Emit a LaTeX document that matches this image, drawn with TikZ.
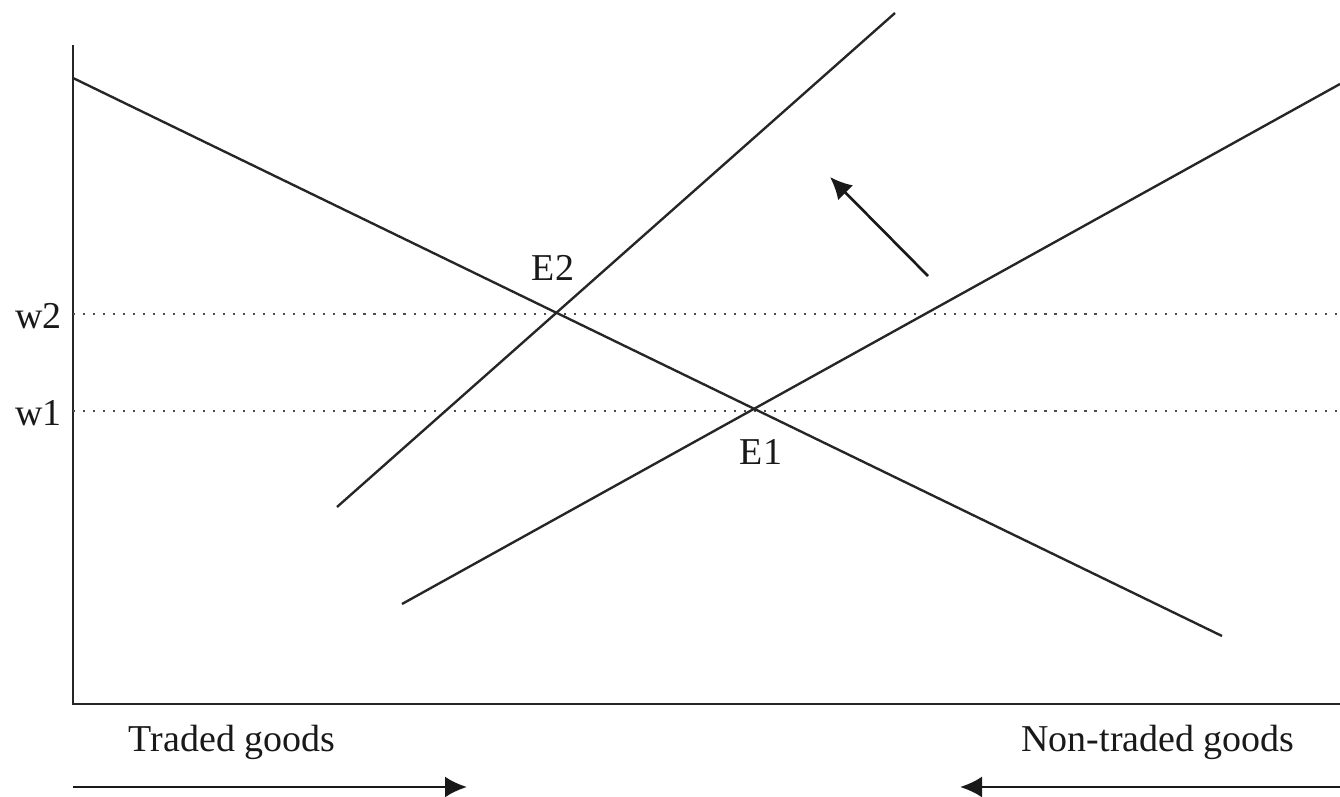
\documentclass[tikz,border=0pt]{standalone}
\usepackage{fontspec}
\setmainfont{Liberation Serif}
\usetikzlibrary{arrows.meta}
\begin{document}
\begin{tikzpicture}[x=0.02cm,y=-0.02cm,
  curve/.style={line width=1.35pt,black!85},
  axisline/.style={line width=1.5pt,black!85},
  level/.style={line width=1.2pt,black!70,dash pattern=on 1.2pt off 4.5pt},
  lbl/.style={font=\fontsize{21.6}{24}\selectfont,inner sep=0pt,text=black!90},
  tip/.style={-{Latex[length=0.44cm,width=0.42cm]},line width=1.5pt,black!90}]
\useasboundingbox (0,0) rectangle (1340,797);
% axes
\coordinate (ytop) at (73,45);
\coordinate (orig) at (73,704);
\coordinate (xend) at (1340,704);
\draw[axisline] (ytop) -- (orig) -- (xend);
% wage levels
\coordinate (w2a) at (73,314); \coordinate (w2b) at (1340,314);
\coordinate (w1a) at (73,411); \coordinate (w1b) at (1340,411);
\draw[level] (w2a) -- (w2b);
\draw[level] (w1a) -- (w1b);
\node[lbl,anchor=east] (w2) at (62,316) {w2};
\node[lbl,anchor=east] (w1) at (62,413) {w1};
% demand line
\coordinate (d1) at (73,78); \coordinate (d2) at (1222,636);
\draw[curve] (d1) -- (d2);
% supply lines
\coordinate (sa1) at (337,507); \coordinate (sa2) at (895,13);
\draw[curve] (sa1) -- (sa2);
\coordinate (sb1) at (402,604); \coordinate (sb2) at (1340,84);
\draw[curve] (sb1) -- (sb2);
% equilibrium labels
\node[lbl] (E2) at (553,268) {E2};
\node[lbl] (E1) at (761,452) {E1};
% shift arrow
\coordinate (sh1) at (928,276); \coordinate (sh2) at (830,177);
\draw[tip] (sh1) -- (sh2);
% bottom labels
\node[lbl] (tg) at (232,742) {Traded goods};
\node[lbl] (ntg) at (1158,742) {Non-traded goods};
\coordinate (ta1) at (73,787); \coordinate (ta2) at (467,787);
\draw[tip] (ta1) -- (ta2);
\coordinate (na1) at (1340,787); \coordinate (na2) at (960,787);
\draw[tip] (na1) -- (na2);
\end{tikzpicture}
\end{document}
